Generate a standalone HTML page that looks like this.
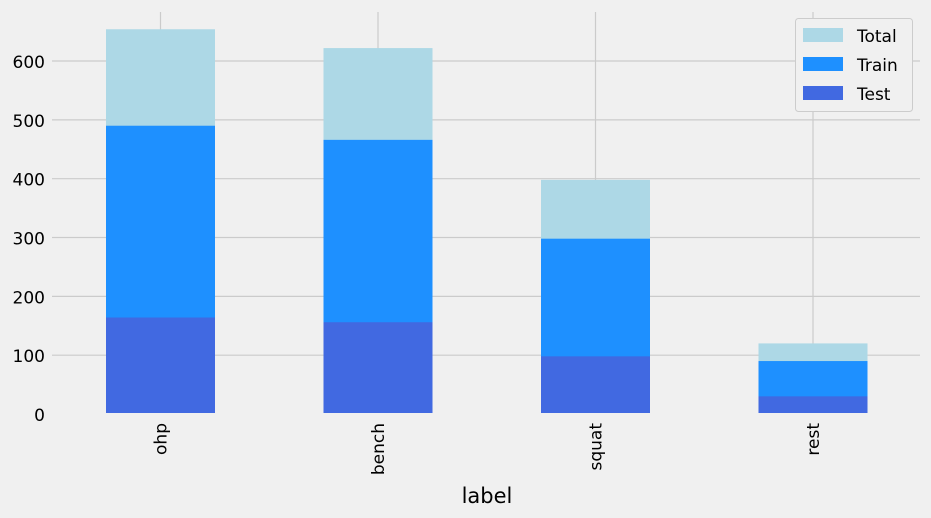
<!DOCTYPE html>
<html><head><meta charset="utf-8"><style>
body{margin:0;background:#f0f0f0;}
svg{display:block;font-family:"DejaVu Sans","Liberation Sans",sans-serif;}
</style></head><body>
<svg id="chart" width="931" height="518">
<rect width="931" height="518" fill="#f0f0f0"/>
<g id="grid"></g><g id="bars"></g><g id="ticks"></g>
<text x="487" y="503" font-size="21" text-anchor="middle" fill="#000">label</text>
<g>
<rect x="795.5" y="18.5" width="117" height="93" rx="3" fill="#f0f0f0" stroke="#cccccc"/>
<rect x="803" y="28" width="40" height="14" fill="#add8e6"/>
<text x="857" y="42" font-size="17">Total</text>
<rect x="803" y="57" width="40" height="14" fill="#1e90ff"/>
<text x="857" y="71" font-size="17">Train</text>
<rect x="803" y="86" width="40" height="14" fill="#4169e1"/>
<text x="857" y="100" font-size="17">Test</text>
</g>
</svg>
<script>
const categories = ["ohp","bench","squat","rest"];
const totalValues = [654, 622, 398, 120];
const trainValues = [490, 466, 298, 90];
const testValues = [164, 156, 98, 30];
const yTicks = [0,100,200,300,400,500,600];

const NS="http://www.w3.org/2000/svg";
function y(v){return 414 - v*0.5883;}
function xc(i){return 160.5 + i*217.5;}
const bw=109;
function mk(tag,attrs,parent){const e=document.createElementNS(NS,tag);for(const k in attrs)e.setAttribute(k,attrs[k]);parent.appendChild(e);return e;}
const grid=document.getElementById('grid'),bars=document.getElementById('bars'),ticks=document.getElementById('ticks');
yTicks.forEach(t=>{
  if(t>0){
    const l=mk('line',{x1:52,x2:920,y1:y(t),y2:y(t),stroke:'#cbcbcb','stroke-width':1.2},grid);
    
    
  }
  const tx=mk('text',{x:45,y:y(t)+7,'font-size':17,'text-anchor':'end',fill:'#000'},ticks);
  tx.textContent=t;
  
  
});
categories.forEach((c,i)=>{
  const g=mk('line',{x1:xc(i),x2:xc(i),y1:12,y2:413,stroke:'#cbcbcb','stroke-width':1.2},grid);
  
  
  [[totalValues,'#add8e6','total'],[trainValues,'#1e90ff','train'],[testValues,'#4169e1','test']].forEach(([arr,col,nm])=>{
    const r=mk('rect',{x:xc(i)-bw/2,y:y(arr[i]),width:bw,height:413-y(arr[i]),fill:col},bars);
    
    
  });
  const t=mk('text',{x:0,y:0,'font-size':17,'text-anchor':'end',transform:`translate(${xc(i)+6},423) rotate(-90)`,fill:'#000'},ticks);
  t.textContent=c;
  
  
});
</script>
</body></html>
